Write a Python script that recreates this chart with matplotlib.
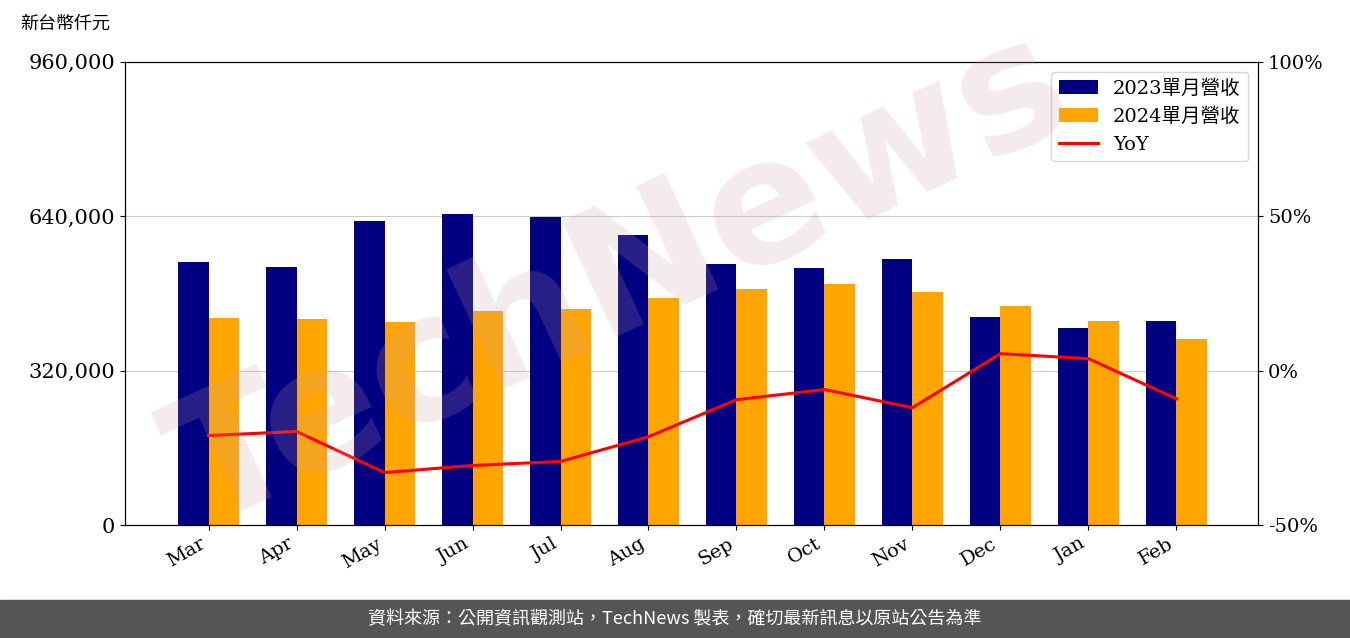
import matplotlib.pyplot as plt
import numpy as np

plt.rcParams['font.family'] = ['DejaVu Serif', 'Noto Sans CJK TC']

months = ["Mar", "Apr", "May", "Jun", "Jul", "Aug", "Sep", "Oct", "Nov", "Dec", "Jan", "Feb"]
rev_2023 = [545300, 535000, 630300, 644800, 638600, 601300, 541100, 532900, 551500, 431300, 408500, 423000]
rev_2024 = [429200, 427100, 420900, 443700, 447900, 470700, 489300, 499700, 483100, 454100, 423000, 385700]
yoy = [-21.0, -19.7, -33.0, -30.7, -29.4, -21.4, -9.4, -6.1, -12.0, 5.5, 3.9, -9.1]

fig = plt.figure(figsize=(13.5, 6.38), dpi=100)
ax = fig.add_axes([0.0926, 0.177, 0.8394, 0.726])
x = np.arange(len(months))
w = 0.35
ax.bar(x - w / 2, rev_2023, w, color="#000080", label="2023單月營收", zorder=2)
ax.bar(x + w / 2, rev_2024, w, color="#FFA500", label="2024單月營收", zorder=2)
ax.set_ylim(0, 960000)
ax.set_yticks([0, 320000, 640000, 960000])
ax.set_yticklabels(["0", "320,000", "640,000", "960,000"], fontsize=15)
ax.grid(axis="y", color="#cccccc", zorder=0)
ax.set_xlim(-0.95, 11.93)
ax.set_xticks(x)
ax.set_xticklabels(months, rotation=30, ha="right", fontsize=14)

ax2 = ax.twinx()
ax2.plot(x, yoy, color="red", lw=2.2, label="YoY")
ax2.set_ylim(-50, 100)
ax2.set_yticks([-50, 0, 50, 100])
ax2.set_yticklabels(["-50%", "0%", "50%", "100%"], fontsize=14)

h1, l1 = ax.get_legend_handles_labels()
h2, l2 = ax2.get_legend_handles_labels()
ax2.legend(h1 + h2, l1 + l2, loc="upper right", fontsize=14)

fig.text(0.015, 0.955, "新台幣仟元", fontsize=13, family=['Noto Sans CJK TC'])

# watermark
fig.text(0.46, 0.56, "TechNews", fontsize=125, rotation=25, color="#c8a0a0", alpha=0.2,
         ha="center", va="center", fontweight="bold", family=['DejaVu Sans'])

# footer
fig.patches.append(plt.Rectangle((0, 0), 1, 0.06, transform=fig.transFigure, color="#555555"))
fig.text(0.5, 0.03, "資料來源：公開資訊觀測站，TechNews 製表，確切最新訊息以原站公告為準",
         color="white", fontsize=13, ha="center", va="center", family=['Noto Sans CJK TC'])

fig.savefig("out.png")
